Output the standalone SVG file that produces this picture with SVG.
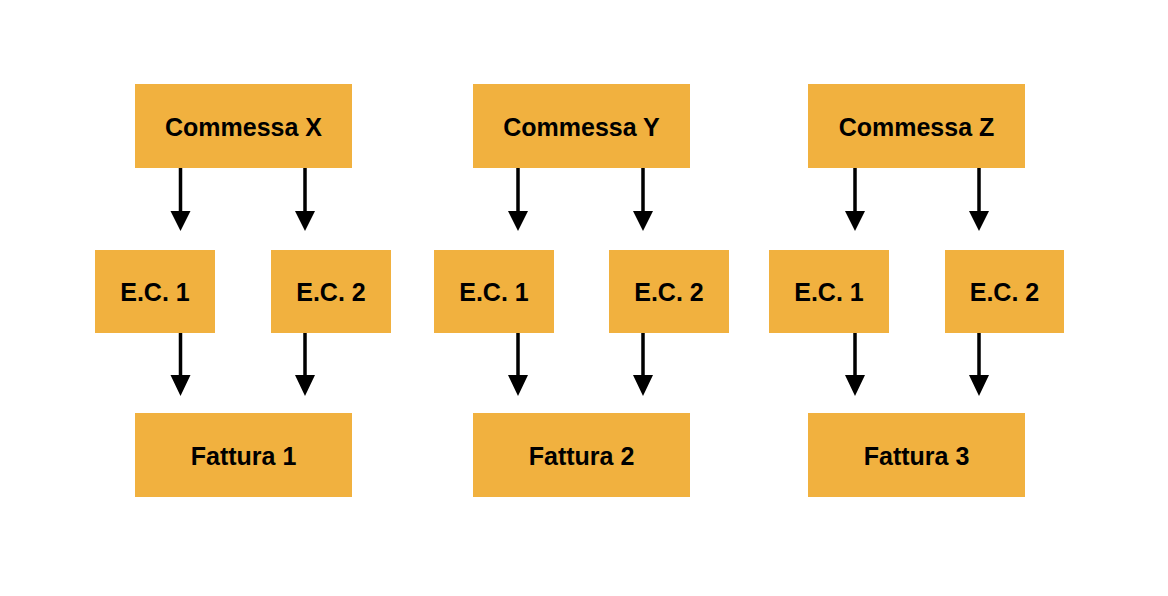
<svg xmlns="http://www.w3.org/2000/svg" width="1168" height="596" viewBox="0 0 1168 596">
<style>
.box{fill:#F1B13F;}
.t{font-family:"Liberation Sans",Arial,Helvetica,sans-serif;font-weight:bold;font-size:25px;fill:#000;text-anchor:middle;}
.c{stroke:#000;stroke-width:3.5;fill:none;}
.h{fill:#000;}
</style>
<rect width="1168" height="596" fill="#fff"/>
<g id="commessa-x"><rect class="box" x="135" y="84" width="217" height="84"/><text class="t" x="243.5" y="136">Commessa X</text></g>
<g id="commessa-y"><rect class="box" x="473" y="84" width="217" height="84"/><text class="t" x="581.5" y="136">Commessa Y</text></g>
<g id="commessa-z"><rect class="box" x="808" y="84" width="217" height="84"/><text class="t" x="916.5" y="136">Commessa Z</text></g>
<g id="x-ec1"><rect class="box" x="95" y="250" width="120" height="83"/><text class="t" x="155" y="301">E.C. 1</text></g>
<g id="x-ec2"><rect class="box" x="271" y="250" width="120" height="83"/><text class="t" x="331" y="301">E.C. 2</text></g>
<g id="y-ec1"><rect class="box" x="434" y="250" width="120" height="83"/><text class="t" x="494" y="301">E.C. 1</text></g>
<g id="y-ec2"><rect class="box" x="609" y="250" width="120" height="83"/><text class="t" x="669" y="301">E.C. 2</text></g>
<g id="z-ec1"><rect class="box" x="769" y="250" width="120" height="83"/><text class="t" x="829" y="301">E.C. 1</text></g>
<g id="z-ec2"><rect class="box" x="945" y="250" width="119" height="83"/><text class="t" x="1004.5" y="301">E.C. 2</text></g>
<g id="fattura-1"><rect class="box" x="135" y="413" width="217" height="84"/><text class="t" x="243.5" y="465">Fattura 1</text></g>
<g id="fattura-2"><rect class="box" x="473" y="413" width="217" height="84"/><text class="t" x="581.5" y="465">Fattura 2</text></g>
<g id="fattura-3"><rect class="box" x="808" y="413" width="217" height="84"/><text class="t" x="916.5" y="465">Fattura 3</text></g>
<g id="connectors">
<path class="c" d="M180.5 168V212M305 168V212M518 168V212M643 168V212M855 168V212M979 168V212"/>
<path class="h" d="M170.5 211h20l-10 20zM295 211h20l-10 20zM508 211h20l-10 20zM633 211h20l-10 20zM845 211h20l-10 20zM969 211h20l-10 20z"/>
<path class="c" d="M180.5 333V376M305 333V376M518 333V376M643 333V376M855 333V376M979 333V376"/>
<path class="h" d="M170.5 375h20l-10 21zM295 375h20l-10 21zM508 375h20l-10 21zM633 375h20l-10 21zM845 375h20l-10 21zM969 375h20l-10 21z"/>
</g>
</svg>
